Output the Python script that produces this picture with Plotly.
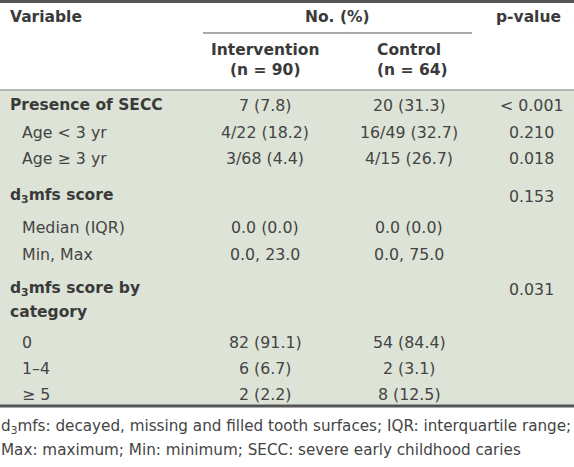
import plotly.graph_objects as go

# ---- data ----
variables = ["Presence of SECC", "Age < 3 yr", "Age ≥ 3 yr", "d<sub>3</sub>mfs score",
             "Median (IQR)", "Min, Max", "d<sub>3</sub>mfs score by<br>category",
             "0", "1–4", "≥ 5"]
is_header_row = [True, False, False, True, False, False, True, False, False, False]
intervention = ["7 (7.8)", "4/22 (18.2)", "3/68 (4.4)", "", "0.0 (0.0)", "0.0, 23.0",
                "", "82 (91.1)", "6 (6.7)", "2 (2.2)"]
control = ["20 (31.3)", "16/49 (32.7)", "4/15 (26.7)", "", "0.0 (0.0)", "0.0, 75.0",
           "", "54 (84.4)", "2 (3.1)", "8 (12.5)"]
pvalues = ["< 0.001", "0.210", "0.018", "0.153", "", "", "0.031", "", "", ""]
col_headers = ["Variable", "No. (%)", "p-value"]
group_headers = ["Intervention<br>(n = 90)", "Control<br>(n = 64)"]
footnote_lines = ["d<sub>3</sub>mfs: decayed, missing and filled tooth surfaces; IQR: interquartile range;",
                  "Max: maximum; Min: minimum; SECC: severe early childhood caries"]

# ---- layout ----
W, H = 574, 467
FONT = "DejaVu Sans"
TXT = "#3a3a3a"
TXT_REG = "#444444"
FS = 15.8
FSB = 15.5
row_y = [105, 132, 158, 196, 227, 254, 289, 342, 368, 394]
x_label_bold, x_label_ind = 8, 20
x_int, x_ctl, x_p = 265, 409, 531

fig = go.Figure()
fig.add_trace(go.Scatter(x=[0, W], y=[0, H], mode="markers", marker=dict(opacity=0),
                         hoverinfo="skip", showlegend=False))

shapes = [
    dict(type="rect", x0=0, x1=W, y0=90.5, y1=405, fillcolor="#dde3d6", line_width=0, layer="below"),
    dict(type="line", x0=0, x1=W, y0=1.5, y1=1.5, line=dict(color="#555555", width=3)),
    dict(type="line", x0=203, x1=472, y0=33, y1=33, line=dict(color="#555555", width=1)),
    dict(type="line", x0=0, x1=W, y0=90, y1=90, line=dict(color="#777777", width=1)),
    dict(type="line", x0=0, x1=W, y0=406, y1=406, line=dict(color="#555555", width=3)),
]

ann = []
def add(text, x, y, xanchor="left", bold=False, size=None, yanchor="middle", align="left", xshift=0):
    if size is None:
        size = FSB if bold else FS
    ann.append(dict(text=f"<b>{text}</b>" if bold else text, x=x, y=y, xref="x", yref="y",
                    xanchor=xanchor, yanchor=yanchor, showarrow=False, align=align, xshift=xshift,
                    font=dict(family=FONT, size=size, color=TXT if bold else TXT_REG)))

add(col_headers[0], 8, 17, bold=True)
add(col_headers[1], 337, 17, xanchor="center", bold=True)
add(col_headers[2], 528, 17, xanchor="center", bold=True)
add(group_headers[0], 265, 60, xanchor="center", bold=True, align="center")
add(group_headers[1], 375, 60, xanchor="left", bold=True, align="left")

for i, lab in enumerate(variables):
    y = row_y[i]
    if is_header_row[i]:
        if "<br>" in lab:
            l1, l2 = lab.split("<br>")
            add(l1, x_label_bold, y, bold=True)
            add(l2, x_label_bold, y + 23, bold=True)
        else:
            add(lab, x_label_bold, y, bold=True)
    else:
        add(lab, x_label_ind, y)
    if intervention[i]:
        add(intervention[i], x_int, y, xanchor="center")
    if control[i]:
        add(control[i], x_ctl, y, xanchor="center")
    if pvalues[i]:
        add(pvalues[i], x_p, y, xanchor="center")

add(footnote_lines[0], 0, 427, size=15.2, xshift=-1)
add(footnote_lines[1], 0, 450, size=15.2, xshift=-1)

fig.update_layout(
    width=W, height=H, margin=dict(l=0, r=0, t=0, b=0),
    paper_bgcolor="white", plot_bgcolor="white",
    xaxis=dict(range=[0, W], visible=False, fixedrange=True),
    yaxis=dict(range=[H, 0], visible=False, fixedrange=True),
    shapes=shapes, annotations=ann,
)
fig.write_html("out.html", config={"displayModeBar": False},
               post_script="document.body.style.margin='0';document.body.style.padding='0';")
